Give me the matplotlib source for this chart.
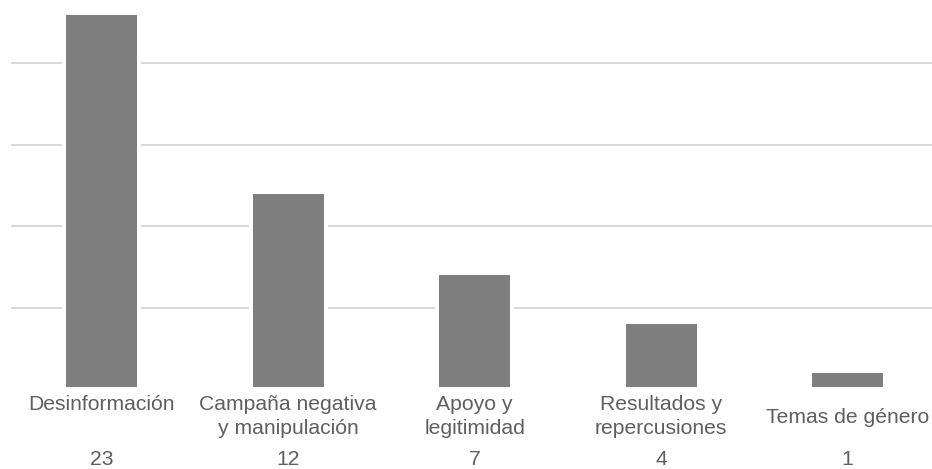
import matplotlib
matplotlib.use("Agg")
import matplotlib.pyplot as plt
from matplotlib.transforms import blended_transform_factory

categories = ["Desinformación", "Campaña negativa\ny manipulación", "Apoyo y\nlegitimidad",
              "Resultados y\nrepercusiones", "Temas de género"]
counts = [23, 12, 7, 4, 1]
y_ticks = [0, 5, 10, 15, 20, 25]

W, H = 932, 469
fig = plt.figure(figsize=(W / 100, H / 100), dpi=100)

# plot area in pixels (runs slightly past the right and top edges);
# the zero line sits just under the visible bottom, so bar feet are clipped
zero_px = 389.5
unit_px = 16.3
clip_px = 386.7
y_min = (zero_px - clip_px) / unit_px
y_max = 25
left_px, right_px = 11, 941
ax = fig.add_axes([left_px / W, (H - clip_px) / H, (right_px - left_px) / W,
                   (y_max - y_min) * unit_px / H])

step_px = 186.6
x = list(range(len(categories)))
ax.set_xlim(-0.5 + (left_px - 8.2) / step_px, 4.5)
ax.set_ylim(y_min, y_max)

grid_c = "#d9d9d9"
for t in y_ticks[1:]:
    ax.axhline(t, color=grid_c, lw=1.5, zorder=1)

# white halo behind each bar breaks the gridlines, then the grey bar
ax.bar(x, counts, width=79 / step_px, color="white", zorder=2)
ax.bar(x, counts, width=71 / step_px, color="#7f7f7f", zorder=3)

for s in ax.spines.values():
    s.set_visible(False)
ax.set_xticks([])
ax.set_yticks([])

text_c = "#5f5f5f"
font = dict(family=["Liberation Sans", "DejaVu Sans"], fontsize=15.2, color=text_c)
tr = blended_transform_factory(ax.transData, fig.transFigure)

for xi, label, n in zip(x, categories, counts):
    lines = label.split("\n")
    if len(lines) == 1:
        baselines = [423] if xi == len(x) - 1 else [410]
    else:
        baselines = [410, 434]
    for line, b in zip(lines, baselines):
        ax.text(xi, (H - b) / H, line, transform=tr, ha="center", va="baseline", **font)
    ax.text(xi, (H - 465) / H, str(n), transform=tr, ha="center", va="baseline", **font)

fig.savefig("out.png", dpi=100, facecolor="white")
